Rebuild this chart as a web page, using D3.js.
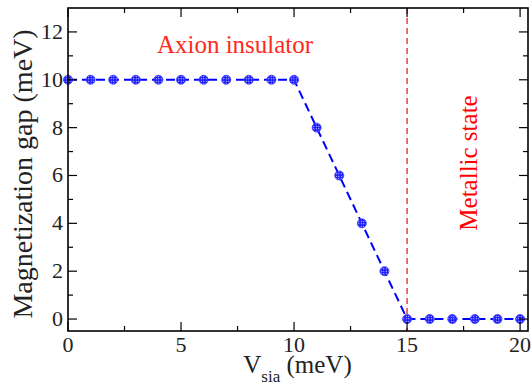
<!DOCTYPE html>
<html>
<head>
<meta charset="utf-8">
<script src="https://cdn.jsdelivr.net/npm/d3@7"></script>
</head>
<body style="margin:0">
<svg id="chart" width="532" height="387" font-family="Liberation Serif"></svg>
<script>
// data
const vsia = [0, 1, 2, 3, 4, 5, 6, 7, 8, 9, 10, 11, 12, 13, 14, 15, 16, 17, 18, 19, 20]
const gap = [10, 10, 10, 10, 10, 10, 10, 10, 10, 10, 10, 8, 6, 4, 2, 0, 0, 0, 0, 0, 0]
const xTicks = [0, 5, 10, 15, 20]
const yTicks = [0, 2, 4, 6, 8, 10, 12]
const boundary = 15

const width = 532
const height = 387
const margin = { top: 8, right: 4, bottom: 56, left: 68 }
const fontName = 'Liberation Serif'

const svg = d3.select('#chart')

const x = d3.scaleLinear()
  .domain([0, 20.35])
  .range([margin.left, width - margin.right])

const y = d3.scaleLinear()
  .domain([-0.5, 13])
  .range([height - margin.bottom, margin.top])

// hatched marker fill
const defs = svg.append('defs')
const pat = defs.append('pattern')
  .attr('id', 'dots')
  .attr('patternUnits', 'userSpaceOnUse')
  .attr('width', 2.5)
  .attr('height', 2.5)
pat.append('rect').attr('width', 2.5).attr('height', 2.5).attr('fill', '#1a1aff')
pat.append('rect').attr('x', 0.8).attr('y', 0.8).attr('width', 1).attr('height', 1).attr('fill', '#fff')

// red boundary line
svg.append('line')
  .attr('x1', x(boundary)).attr('x2', x(boundary))
  .attr('y1', y(13)).attr('y2', y(-0.5))
  .attr('stroke', '#e8202a')
  .attr('stroke-width', 1.3)
  .attr('stroke-dasharray', '6,4')

// dashed line
const line = d3.line()
  .x((d, i) => x(vsia[i]))
  .y((d) => y(d))

svg.append('path')
  .datum(gap)
  .attr('d', line)
  .attr('fill', 'none')
  .attr('stroke', '#0000ff')
  .attr('stroke-width', 2)
  .attr('stroke-dasharray', '9,5')

// markers
svg.append('g')
  .selectAll('circle')
  .data(gap)
  .join('circle')
  .attr('cx', (d, i) => x(vsia[i]))
  .attr('cy', (d) => y(d))
  .attr('r', 4.5)
  .attr('fill', 'url(#dots)')
  .attr('stroke', '#3333ff')
  .attr('stroke-width', 0.8)

// axes with inward ticks on all sides
const xMinor = d3.range(0, 20.1, 2.5)
const yMinor = d3.range(0, 13, 1)

const axisG = svg.append('g')

function tickLines(vals, len, side) {
  const horiz = side === 'bottom' || side === 'top'
  axisG.append('g')
    .selectAll('line')
    .data(vals)
    .join('line')
    .attr('x1', (d) => horiz ? x(d) : (side === 'left' ? x.range()[0] : x.range()[1]))
    .attr('x2', (d) => horiz ? x(d) : (side === 'left' ? x.range()[0] + len : x.range()[1] - len))
    .attr('y1', (d) => !horiz ? y(d) : (side === 'bottom' ? y.range()[0] : y.range()[1]))
    .attr('y2', (d) => !horiz ? y(d) : (side === 'bottom' ? y.range()[0] - len : y.range()[1] + len))
    .attr('stroke', '#000')
    .attr('stroke-width', 1.2)
}

tickLines(xTicks, 9, 'bottom')
tickLines(xMinor.filter((d) => !xTicks.includes(d)), 5, 'bottom')
tickLines(xTicks, 9, 'top')
tickLines(xMinor.filter((d) => !xTicks.includes(d)), 5, 'top')
tickLines(yTicks, 9, 'left')
tickLines(yMinor.filter((d) => !yTicks.includes(d)), 5, 'left')
tickLines(yTicks, 9, 'right')
tickLines(yMinor.filter((d) => !yTicks.includes(d)), 5, 'right')

svg.append('rect')
  .attr('x', x.range()[0])
  .attr('y', y.range()[1])
  .attr('width', x.range()[1] - x.range()[0])
  .attr('height', y.range()[0] - y.range()[1])
  .attr('fill', 'none')
  .attr('stroke', '#000')
  .attr('stroke-width', 1.6)

// text helper: shift by measured width instead of text-anchor
function addText(str, size, color) {
  return svg.append('text')
    .attr('font-family', fontName)
    .style('font', `${size}px "${fontName}"`)
    .attr('font-size', size)
    .attr('fill', color)
    .text(str)
}
function widthOf(sel) {
  return sel.node().getComputedTextLength()
}

// tick labels
xTicks.forEach((v) => {
  const t = addText(v, 22, '#222')
  t.attr('x', x(v) - widthOf(t) / 2).attr('y', y.range()[0] + 21)
})
yTicks.forEach((v) => {
  const t = addText(v, 22, '#222')
  t.attr('x', x.range()[0] - 5 - widthOf(t)).attr('y', y(v) + 7)
})

// y title
const yt = addText('Magnetization gap (meV)', 28, '#222')
yt.attr('transform', `translate(32,${174 + widthOf(yt) / 2}) rotate(-90)`)

// region labels
const ax = addText('Axion insulator', 25, '#ff2a1a')
ax.attr('x', 235 - widthOf(ax) / 2).attr('y', 53)

const ms = addText('Metallic state', 25, '#ff0000')
ms.attr('transform', `translate(477,${163 + widthOf(ms) / 2}) rotate(-90)`)

// x title with subscript
const xt = addText('', 25, '#222')
xt.append('tspan').text('V')
xt.append('tspan').style('font-size', '17px').attr('dy', 9).text('sia')
xt.append('tspan').attr('dy', -9).text(' (meV)')
xt.attr('x', 297.5 - widthOf(xt) / 2).attr('y', 373)
</script>
</body>
</html>
